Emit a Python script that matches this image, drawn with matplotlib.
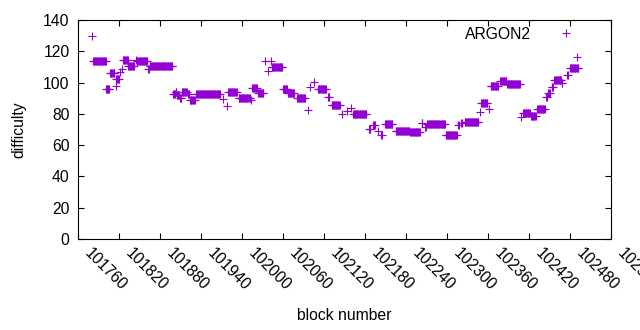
import numpy as np
import matplotlib
matplotlib.use('Agg')
import matplotlib.pyplot as plt
from matplotlib.transforms import ScaledTranslation

plt.rcParams['font.family'] = ['Liberation Sans', 'DejaVu Sans']

# runs of constant difficulty: first block, last block, value
run_start = [101780, 101782, 101801, 101807, 101815, 101816, 101822, 101825,
             101826, 101833, 101845, 101846, 101863, 101865,
             101899, 101903, 101905, 101909, 101912, 101921, 101924, 101933,
             101972, 101978, 101980, 101995, 102013, 102015, 102024,
             102034, 102038, 102042, 102044, 102060, 102067, 102081, 102096,
             102100, 102105, 102111, 102126, 102131, 102146, 102153, 102160,
             102163, 102186, 102192, 102199, 102204, 102209, 102225, 102246,
             102263, 102268, 102271, 102298, 102316, 102321, 102326, 102348,
             102350, 102362, 102364, 102378, 102388, 102409, 102411, 102423,
             102432, 102445, 102448, 102453, 102457, 102468, 102476, 102480,
             102490]
run_end = [101780, 101801, 101806, 101813, 101815, 101820, 101822, 101825,
           101833, 101842, 101845, 101861, 101864, 101898,
           101902, 101904, 101908, 101911, 101919, 101923, 101931, 101968,
           101972, 101978, 101992, 102012, 102013, 102022, 102031,
           102034, 102038, 102042, 102059, 102066, 102076, 102092, 102096,
           102100, 102105, 102123, 102128, 102143, 102146, 102153, 102160,
           102182, 102188, 102194, 102199, 102205, 102220, 102245, 102260,
           102264, 102269, 102297, 102314, 102317, 102322, 102346, 102348,
           102359, 102362, 102374, 102387, 102407, 102409, 102421, 102430,
           102443, 102446, 102450, 102455, 102467, 102469, 102477, 102492,
           102490]
run_value = [130, 114, 96, 106, 98, 102, 107, 108.5,
             114.5, 110.8, 114.6, 113.8, 108.7, 110.3,
             92.7, 94.2, 92, 90, 94.2, 92.5, 89, 93,
             89.3, 85, 94, 90, 88.9, 96.3, 93.2,
             113.8, 107.6, 113.8, 109.8, 95.7, 93.5, 90, 82.5,
             97.4, 100.2, 95.7, 90.7, 85.7, 80, 82, 83.5,
             79.7, 70.1, 72.9, 69.2, 66.5, 73.5, 69.2, 68.2,
             74, 71.4, 73.5, 66.5, 72.9, 74.4, 75, 81.4,
             86.8, 83, 97.8, 101.2, 98.9, 78.2, 80.4, 78.5,
             83, 91, 93.5, 97.4, 101.7, 99.6, 104.9, 109.2,
             116.2]

blocks = []
difficulty = []
for s, e, v in zip(run_start, run_end, run_value):
    for b in range(s, e + 1):
        blocks.append(b)
        difficulty.append(v)

FS = 11.3

fig = plt.figure(figsize=(6.4, 3.3), dpi=100)
ax = fig.add_axes([78 / 640, 1 - 239 / 330, 533 / 640, 219 / 330])

ax.plot(blocks, difficulty, '+', color='#9400d3', markersize=5.8,
        markeredgewidth=0.8, label='ARGON2')

ax.set_xlim(101760, 102540)
ax.set_ylim(0, 140)
ax.set_xticks(np.arange(101760, 102541, 60))
ax.set_yticks(np.arange(0, 141, 20))
ax.tick_params(direction='in', top=True, right=True, length=4, width=0.8,
               labelsize=FS)
ax.tick_params(axis='y', pad=6)
ax.tick_params(axis='x', pad=5)

# gnuplot style: labels rotated -45, starting just right of the tick
shift = ScaledTranslation(10 / 72, 0, fig.dpi_scale_trans)
for lbl in ax.get_xticklabels():
    lbl.set_rotation(-45)
    lbl.set_ha('left')
    lbl.set_va('top')
    lbl.set_rotation_mode('anchor')
    lbl.set_transform(lbl.get_transform() + shift)
for sp in ax.spines.values():
    sp.set_linewidth(0.8)

ax.set_xlabel('block number', fontsize=FS, labelpad=10)
ax.set_ylabel('difficulty', fontsize=FS, labelpad=12)

ax.legend(loc='upper right', frameon=False, markerfirst=False, fontsize=FS,
          handletextpad=1.2, bbox_to_anchor=(0.965, 1.02), borderaxespad=0.3)

fig.savefig('out.png', dpi=100)
